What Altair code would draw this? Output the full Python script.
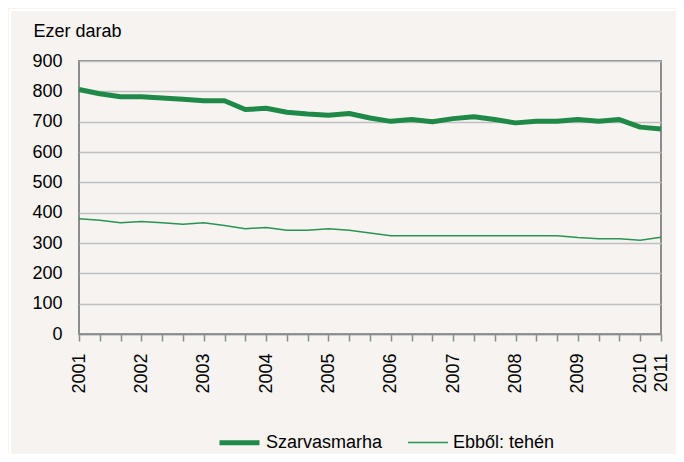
import json
import altair as alt
import pandas as pd

# ---- data -------------------------------------------------------------
series_names = ["Szarvasmarha", "Ebből: tehén"]
cattle = [806, 792, 782, 782, 778, 774, 769, 769, 740, 744, 731, 725, 721, 727,
          712, 701, 707, 700, 710, 716, 707, 696, 701, 701, 707, 701, 707, 682, 676]
cows = [380, 375, 367, 371, 367, 362, 367, 358, 347, 351, 342, 342, 347, 342,
        333, 324, 324, 324, 324, 324, 324, 324, 324, 324, 318, 314, 314, 309, 319]
tick_labels = ["2001", "", "", "2002", "", "", "2003", "", "", "2004", "", "",
               "2005", "", "", "2006", "", "", "2007", "", "", "2008", "", "",
               "2009", "", "", "2010", "2011"]
y_ticks = [0, 100, 200, 300, 400, 500, 600, 700, 800, 900]

rows = []
for i, v in enumerate(cattle):
    rows.append({"idx": i, "value": v, "series": series_names[0]})
for i, v in enumerate(cows):
    rows.append({"idx": i, "value": v, "series": series_names[1]})
df = pd.DataFrame(rows)

FONT = "Liberation Sans"
FS = 18
BG = "#f6f3f0"
GREEN = "#1f8a47"
GREY = "#8c8c8c"

label_expr = json.dumps(tick_labels) + "[datum.value]"

legend = alt.Legend(orient="none", legendX=138, legendY=359,
                    direction="horizontal", symbolType="stroke",
                    symbolSize=1600, labelFont=FONT,
                    labelFontSize=FS, labelColor="#000000",
                    labelOffset=4, columnPadding=22, title=None)

lines = alt.Chart(df).mark_line(strokeCap="butt", strokeJoin="round").encode(
    x=alt.X("idx:Q",
            scale=alt.Scale(domain=[0, len(cattle) - 1], nice=False, zero=False),
            axis=alt.Axis(values=list(range(len(cattle))), labelExpr=label_expr,
                          labelAngle=270, labelAlign="right", labelBaseline="middle",
                          labelPadding=12, tickSize=7, tickWidth=1.5, tickColor=GREY,
                          domainColor=GREY, domainWidth=1.5, grid=False,
                          labelOverlap=False, labelFlush=False, title=None,
                          labelFont=FONT, labelFontSize=FS, labelColor="#000000")),
    y=alt.Y("value:Q",
            scale=alt.Scale(domain=[0, 900], nice=False),
            axis=alt.Axis(values=y_ticks, tickSize=0, domain=False, labelPadding=17,
                          grid=True, gridColor="#c0c0c0", gridWidth=1.5,
                          labelFont=FONT, labelFontSize=FS, labelColor="#000000",
                          title="Ezer darab", titleAngle=0, titleAlign="left",
                          titleBaseline="middle", titleX=-46, titleY=-30,
                          titleFont=FONT, titleFontSize=FS, titleFontWeight="normal",
                          titleColor="#000000")),
    color=alt.Color("series:N",
                    scale=alt.Scale(domain=series_names, range=[GREEN, "#2a9455"]),
                    legend=legend),
    strokeWidth=alt.StrokeWidth("series:N",
                                scale=alt.Scale(domain=series_names, range=[5, 1.5]),
                                legend=legend),
)

frame_top = alt.Chart(df).mark_rule(color="#ffffff", strokeWidth=2).encode(
    x=alt.value(-69), x2=alt.value(620), y=alt.value(-51))
frame_left = alt.Chart(df).mark_rule(color="#ffffff", strokeWidth=2).encode(
    x=alt.value(-69), y=alt.value(-51), y2=alt.value(420))

chart = alt.layer(frame_top, frame_left, lines).properties(
    width=582, height=273,
    padding={"left": 71, "top": 53, "right": 15, "bottom": 120},
    autosize=alt.AutoSizeParams(type="none"),
    background=BG,
).configure_view(stroke=GREY, strokeWidth=2, fill=BG)

chart.save("out.html", embed_options={"renderer": "svg", "actions": False})
